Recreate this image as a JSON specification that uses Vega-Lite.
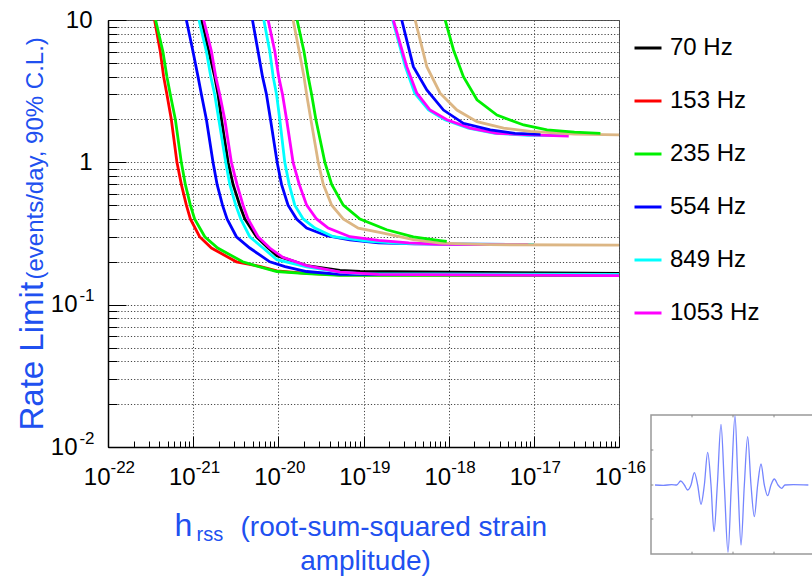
{
  "$schema": "https://vega.github.io/schema/vega-lite/v6.json",
  "width": 511,
  "height": 427,
  "autosize": {"type": "none"},
  "padding": {"left": 108, "top": 20, "right": 193, "bottom": 131},
  "background": "#ffffff",
  "config": {
    "font": "Liberation Sans",
    "view": {"stroke": "#555555", "strokeWidth": 1},
    "axis": {"labelFont": "Liberation Sans", "titleFont": "Liberation Sans", "titleFontWeight": "normal", "labelColor": "#000000"}
  },
  "layer": [
    {
      "data": {"values": [
        {"h": 1.25e-21, "rate": 10, "f": "70 Hz", "g": "a70"},
        {"h": 1.53e-21, "rate": 6, "f": "70 Hz", "g": "a70"},
        {"h": 1.79e-21, "rate": 4, "f": "70 Hz", "g": "a70"},
        {"h": 1.96e-21, "rate": 3, "f": "70 Hz", "g": "a70"},
        {"h": 2.15e-21, "rate": 2, "f": "70 Hz", "g": "a70"},
        {"h": 2.57e-21, "rate": 1, "f": "70 Hz", "g": "a70"},
        {"h": 2.94e-21, "rate": 0.7, "f": "70 Hz", "g": "a70"},
        {"h": 3.52e-21, "rate": 0.5, "f": "70 Hz", "g": "a70"},
        {"h": 4.04e-21, "rate": 0.4, "f": "70 Hz", "g": "a70"},
        {"h": 5.54e-21, "rate": 0.3, "f": "70 Hz", "g": "a70"},
        {"h": 7.59e-21, "rate": 0.25, "f": "70 Hz", "g": "a70"},
        {"h": 9.6e-21, "rate": 0.221, "f": "70 Hz", "g": "a70"},
        {"h": 2.15e-20, "rate": 0.188, "f": "70 Hz", "g": "a70"},
        {"h": 5.3e-20, "rate": 0.174, "f": "70 Hz", "g": "a70"},
        {"h": 9.1e-20, "rate": 0.171, "f": "70 Hz", "g": "a70"},
        {"h": 1e-16, "rate": 0.166, "f": "70 Hz", "g": "a70"},

        {"h": 3.52e-22, "rate": 10, "f": "153 Hz", "g": "a153"},
        {"h": 4.11e-22, "rate": 6, "f": "153 Hz", "g": "a153"},
        {"h": 4.5e-22, "rate": 4, "f": "153 Hz", "g": "a153"},
        {"h": 4.92e-22, "rate": 3, "f": "153 Hz", "g": "a153"},
        {"h": 5.54e-22, "rate": 2, "f": "153 Hz", "g": "a153"},
        {"h": 6.45e-22, "rate": 1, "f": "153 Hz", "g": "a153"},
        {"h": 7.26e-22, "rate": 0.7, "f": "153 Hz", "g": "a153"},
        {"h": 8.32e-22, "rate": 0.5, "f": "153 Hz", "g": "a153"},
        {"h": 9.27e-22, "rate": 0.4, "f": "153 Hz", "g": "a153"},
        {"h": 1.19e-21, "rate": 0.3, "f": "153 Hz", "g": "a153"},
        {"h": 1.64e-21, "rate": 0.25, "f": "153 Hz", "g": "a153"},
        {"h": 3.22e-21, "rate": 0.2, "f": "153 Hz", "g": "a153"},
        {"h": 6.06e-21, "rate": 0.186, "f": "153 Hz", "g": "a153"},
        {"h": 9.6e-21, "rate": 0.173, "f": "153 Hz", "g": "a153"},
        {"h": 2.15e-20, "rate": 0.166, "f": "153 Hz", "g": "a153"},
        {"h": 5.3e-20, "rate": 0.162, "f": "153 Hz", "g": "a153"},
        {"h": 1e-16, "rate": 0.161, "f": "153 Hz", "g": "a153"},

        {"h": 3.62e-22, "rate": 10, "f": "235 Hz", "g": "a235"},
        {"h": 4.41e-22, "rate": 6, "f": "235 Hz", "g": "a235"},
        {"h": 4.92e-22, "rate": 4, "f": "235 Hz", "g": "a235"},
        {"h": 5.39e-22, "rate": 3, "f": "235 Hz", "g": "a235"},
        {"h": 6.18e-22, "rate": 2, "f": "235 Hz", "g": "a235"},
        {"h": 7.26e-22, "rate": 1, "f": "235 Hz", "g": "a235"},
        {"h": 8.09e-22, "rate": 0.7, "f": "235 Hz", "g": "a235"},
        {"h": 9.27e-22, "rate": 0.5, "f": "235 Hz", "g": "a235"},
        {"h": 1.04e-21, "rate": 0.4, "f": "235 Hz", "g": "a235"},
        {"h": 1.37e-21, "rate": 0.3, "f": "235 Hz", "g": "a235"},
        {"h": 1.94e-21, "rate": 0.25, "f": "235 Hz", "g": "a235"},
        {"h": 3.82e-21, "rate": 0.2, "f": "235 Hz", "g": "a235"},
        {"h": 6.06e-21, "rate": 0.184, "f": "235 Hz", "g": "a235"},
        {"h": 9.6e-21, "rate": 0.171, "f": "235 Hz", "g": "a235"},
        {"h": 2.15e-20, "rate": 0.165, "f": "235 Hz", "g": "a235"},
        {"h": 5.3e-20, "rate": 0.161, "f": "235 Hz", "g": "a235"},
        {"h": 1e-16, "rate": 0.16, "f": "235 Hz", "g": "a235"},

        {"h": 8.32e-22, "rate": 10, "f": "554 Hz", "g": "a554"},
        {"h": 9.95e-22, "rate": 6, "f": "554 Hz", "g": "a554"},
        {"h": 1.14e-21, "rate": 4, "f": "554 Hz", "g": "a554"},
        {"h": 1.25e-21, "rate": 3, "f": "554 Hz", "g": "a554"},
        {"h": 1.43e-21, "rate": 2, "f": "554 Hz", "g": "a554"},
        {"h": 1.71e-21, "rate": 1, "f": "554 Hz", "g": "a554"},
        {"h": 1.91e-21, "rate": 0.7, "f": "554 Hz", "g": "a554"},
        {"h": 2.21e-21, "rate": 0.5, "f": "554 Hz", "g": "a554"},
        {"h": 2.5e-21, "rate": 0.4, "f": "554 Hz", "g": "a554"},
        {"h": 3.22e-21, "rate": 0.3, "f": "554 Hz", "g": "a554"},
        {"h": 4.62e-21, "rate": 0.25, "f": "554 Hz", "g": "a554"},
        {"h": 7.94e-21, "rate": 0.2, "f": "554 Hz", "g": "a554"},
        {"h": 1.2e-20, "rate": 0.185, "f": "554 Hz", "g": "a554"},
        {"h": 2.15e-20, "rate": 0.171, "f": "554 Hz", "g": "a554"},
        {"h": 5.3e-20, "rate": 0.163, "f": "554 Hz", "g": "a554"},
        {"h": 1e-16, "rate": 0.162, "f": "554 Hz", "g": "a554"},

        {"h": 1.17e-21, "rate": 10, "f": "849 Hz", "g": "a849"},
        {"h": 1.43e-21, "rate": 6, "f": "849 Hz", "g": "a849"},
        {"h": 1.61e-21, "rate": 4, "f": "849 Hz", "g": "a849"},
        {"h": 1.79e-21, "rate": 3, "f": "849 Hz", "g": "a849"},
        {"h": 2.0e-21, "rate": 2, "f": "849 Hz", "g": "a849"},
        {"h": 2.41e-21, "rate": 1, "f": "849 Hz", "g": "a849"},
        {"h": 2.69e-21, "rate": 0.7, "f": "849 Hz", "g": "a849"},
        {"h": 3.16e-21, "rate": 0.5, "f": "849 Hz", "g": "a849"},
        {"h": 3.62e-21, "rate": 0.4, "f": "849 Hz", "g": "a849"},
        {"h": 4.62e-21, "rate": 0.3, "f": "849 Hz", "g": "a849"},
        {"h": 6.62e-21, "rate": 0.25, "f": "849 Hz", "g": "a849"},
        {"h": 9.6e-21, "rate": 0.207, "f": "849 Hz", "g": "a849"},
        {"h": 2.15e-20, "rate": 0.184, "f": "849 Hz", "g": "a849"},
        {"h": 5.3e-20, "rate": 0.169, "f": "849 Hz", "g": "a849"},
        {"h": 9.1e-20, "rate": 0.165, "f": "849 Hz", "g": "a849"},
        {"h": 1e-16, "rate": 0.163, "f": "849 Hz", "g": "a849"},

        {"h": 1.33e-21, "rate": 10, "f": "1053 Hz", "g": "a1053"},
        {"h": 1.64e-21, "rate": 6, "f": "1053 Hz", "g": "a1053"},
        {"h": 1.84e-21, "rate": 4, "f": "1053 Hz", "g": "a1053"},
        {"h": 2.05e-21, "rate": 3, "f": "1053 Hz", "g": "a1053"},
        {"h": 2.35e-21, "rate": 2, "f": "1053 Hz", "g": "a1053"},
        {"h": 2.81e-21, "rate": 1, "f": "1053 Hz", "g": "a1053"},
        {"h": 3.27e-21, "rate": 0.7, "f": "1053 Hz", "g": "a1053"},
        {"h": 3.85e-21, "rate": 0.5, "f": "1053 Hz", "g": "a1053"},
        {"h": 4.41e-21, "rate": 0.4, "f": "1053 Hz", "g": "a1053"},
        {"h": 5.78e-21, "rate": 0.3, "f": "1053 Hz", "g": "a1053"},
        {"h": 7.94e-21, "rate": 0.25, "f": "1053 Hz", "g": "a1053"},
        {"h": 1.13e-20, "rate": 0.215, "f": "1053 Hz", "g": "a1053"},
        {"h": 2.15e-20, "rate": 0.188, "f": "1053 Hz", "g": "a1053"},
        {"h": 5.3e-20, "rate": 0.169, "f": "1053 Hz", "g": "a1053"},
        {"h": 1.5e-19, "rate": 0.163, "f": "1053 Hz", "g": "a1053"},
        {"h": 1e-16, "rate": 0.16, "f": "1053 Hz", "g": "a1053"},

        {"h": 4.97e-21, "rate": 10, "f": "554 Hz", "g": "b554"},
        {"h": 5.78e-21, "rate": 6, "f": "554 Hz", "g": "b554"},
        {"h": 6.52e-21, "rate": 4, "f": "554 Hz", "g": "b554"},
        {"h": 7.26e-21, "rate": 3, "f": "554 Hz", "g": "b554"},
        {"h": 8.09e-21, "rate": 2, "f": "554 Hz", "g": "b554"},
        {"h": 9.68e-21, "rate": 1, "f": "554 Hz", "g": "b554"},
        {"h": 1.09e-20, "rate": 0.7, "f": "554 Hz", "g": "b554"},
        {"h": 1.3e-20, "rate": 0.5, "f": "554 Hz", "g": "b554"},
        {"h": 1.64e-20, "rate": 0.4, "f": "554 Hz", "g": "b554"},
        {"h": 2.15e-20, "rate": 0.345, "f": "554 Hz", "g": "b554"},
        {"h": 3.69e-20, "rate": 0.305, "f": "554 Hz", "g": "b554"},
        {"h": 6.9e-20, "rate": 0.285, "f": "554 Hz", "g": "b554"},
        {"h": 1.5e-19, "rate": 0.272, "f": "554 Hz", "g": "b554"},
        {"h": 4e-19, "rate": 0.267, "f": "554 Hz", "g": "b554"},
        {"h": 1e-17, "rate": 0.265, "f": "554 Hz", "g": "b554"},

        {"h": 6.75e-21, "rate": 10, "f": "849 Hz", "g": "b849"},
        {"h": 7.94e-21, "rate": 6, "f": "849 Hz", "g": "b849"},
        {"h": 8.69e-21, "rate": 4, "f": "849 Hz", "g": "b849"},
        {"h": 9.53e-21, "rate": 3, "f": "849 Hz", "g": "b849"},
        {"h": 1.04e-20, "rate": 2, "f": "849 Hz", "g": "b849"},
        {"h": 1.19e-20, "rate": 1, "f": "849 Hz", "g": "b849"},
        {"h": 1.34e-20, "rate": 0.7, "f": "849 Hz", "g": "b849"},
        {"h": 1.56e-20, "rate": 0.5, "f": "849 Hz", "g": "b849"},
        {"h": 1.96e-20, "rate": 0.4, "f": "849 Hz", "g": "b849"},
        {"h": 2.69e-20, "rate": 0.345, "f": "849 Hz", "g": "b849"},
        {"h": 4.42e-20, "rate": 0.3, "f": "849 Hz", "g": "b849"},
        {"h": 1.09e-19, "rate": 0.28, "f": "849 Hz", "g": "b849"},
        {"h": 2.69e-19, "rate": 0.27, "f": "849 Hz", "g": "b849"},
        {"h": 1.04e-18, "rate": 0.266, "f": "849 Hz", "g": "b849"},
        {"h": 1e-17, "rate": 0.265, "f": "849 Hz", "g": "b849"},

        {"h": 7.59e-21, "rate": 10, "f": "1053 Hz", "g": "b1053"},
        {"h": 9.1e-21, "rate": 6, "f": "1053 Hz", "g": "b1053"},
        {"h": 1.01e-20, "rate": 4, "f": "1053 Hz", "g": "b1053"},
        {"h": 1.12e-20, "rate": 3, "f": "1053 Hz", "g": "b1053"},
        {"h": 1.25e-20, "rate": 2, "f": "1053 Hz", "g": "b1053"},
        {"h": 1.49e-20, "rate": 1, "f": "1053 Hz", "g": "b1053"},
        {"h": 1.76e-20, "rate": 0.7, "f": "1053 Hz", "g": "b1053"},
        {"h": 2.15e-20, "rate": 0.5, "f": "1053 Hz", "g": "b1053"},
        {"h": 2.81e-20, "rate": 0.4, "f": "1053 Hz", "g": "b1053"},
        {"h": 3.85e-20, "rate": 0.345, "f": "1053 Hz", "g": "b1053"},
        {"h": 6.93e-20, "rate": 0.3, "f": "1053 Hz", "g": "b1053"},
        {"h": 1.5e-19, "rate": 0.283, "f": "1053 Hz", "g": "b1053"},
        {"h": 3.4e-19, "rate": 0.272, "f": "1053 Hz", "g": "b1053"},
        {"h": 7.94e-19, "rate": 0.265, "f": "1053 Hz", "g": "b1053"},
        {"h": 8.6e-18, "rate": 0.264, "f": "1053 Hz", "g": "b1053"},

        {"h": 1.49e-20, "rate": 10, "f": "other", "g": "bx"},
        {"h": 1.76e-20, "rate": 6, "f": "other", "g": "bx"},
        {"h": 2.0e-20, "rate": 4, "f": "other", "g": "bx"},
        {"h": 2.15e-20, "rate": 3, "f": "other", "g": "bx"},
        {"h": 2.41e-20, "rate": 2, "f": "other", "g": "bx"},
        {"h": 2.94e-20, "rate": 1, "f": "other", "g": "bx"},
        {"h": 3.37e-20, "rate": 0.7, "f": "other", "g": "bx"},
        {"h": 4.23e-20, "rate": 0.5, "f": "other", "g": "bx"},
        {"h": 5.78e-20, "rate": 0.4, "f": "other", "g": "bx"},
        {"h": 8.69e-20, "rate": 0.345, "f": "other", "g": "bx"},
        {"h": 1.71e-19, "rate": 0.318, "f": "other", "g": "bx"},
        {"h": 3.85e-19, "rate": 0.286, "f": "other", "g": "bx"},
        {"h": 7.94e-19, "rate": 0.271, "f": "other", "g": "bx"},
        {"h": 3e-18, "rate": 0.264, "f": "other", "g": "bx"},
        {"h": 1e-16, "rate": 0.262, "f": "other", "g": "bx"},

        {"h": 1.66e-20, "rate": 10, "f": "235 Hz", "g": "b235"},
        {"h": 2.0e-20, "rate": 6, "f": "235 Hz", "g": "b235"},
        {"h": 2.24e-20, "rate": 4, "f": "235 Hz", "g": "b235"},
        {"h": 2.46e-20, "rate": 3, "f": "235 Hz", "g": "b235"},
        {"h": 2.76e-20, "rate": 2, "f": "235 Hz", "g": "b235"},
        {"h": 3.52e-20, "rate": 1, "f": "235 Hz", "g": "b235"},
        {"h": 4.23e-20, "rate": 0.7, "f": "235 Hz", "g": "b235"},
        {"h": 5.78e-20, "rate": 0.5, "f": "235 Hz", "g": "b235"},
        {"h": 9.1e-20, "rate": 0.4, "f": "235 Hz", "g": "b235"},
        {"h": 1.87e-19, "rate": 0.336, "f": "235 Hz", "g": "b235"},
        {"h": 3.85e-19, "rate": 0.299, "f": "235 Hz", "g": "b235"},
        {"h": 7.94e-19, "rate": 0.282, "f": "235 Hz", "g": "b235"},
        {"h": 9.5e-19, "rate": 0.278, "f": "235 Hz", "g": "b235"},

        {"h": 2.2e-19, "rate": 10, "f": "849 Hz", "g": "c849"},
        {"h": 3.1e-19, "rate": 4.7, "f": "849 Hz", "g": "c849"},
        {"h": 4.0e-19, "rate": 3.06, "f": "849 Hz", "g": "c849"},
        {"h": 5.8e-19, "rate": 2.33, "f": "849 Hz", "g": "c849"},
        {"h": 9.0e-19, "rate": 1.99, "f": "849 Hz", "g": "c849"},
        {"h": 1.7e-18, "rate": 1.74, "f": "849 Hz", "g": "c849"},
        {"h": 3.5e-18, "rate": 1.6, "f": "849 Hz", "g": "c849"},
        {"h": 8.5e-18, "rate": 1.55, "f": "849 Hz", "g": "c849"},
        {"h": 2.3e-17, "rate": 1.54, "f": "849 Hz", "g": "c849"},

        {"h": 2.24e-19, "rate": 10, "f": "1053 Hz", "g": "c1053"},
        {"h": 3.22e-19, "rate": 4.7, "f": "1053 Hz", "g": "c1053"},
        {"h": 4.23e-19, "rate": 3.06, "f": "1053 Hz", "g": "c1053"},
        {"h": 6.05e-19, "rate": 2.33, "f": "1053 Hz", "g": "c1053"},
        {"h": 9.53e-19, "rate": 1.99, "f": "1053 Hz", "g": "c1053"},
        {"h": 1.79e-18, "rate": 1.74, "f": "1053 Hz", "g": "c1053"},
        {"h": 3.69e-18, "rate": 1.6, "f": "1053 Hz", "g": "c1053"},
        {"h": 9.1e-18, "rate": 1.56, "f": "1053 Hz", "g": "c1053"},
        {"h": 2.57e-17, "rate": 1.53, "f": "1053 Hz", "g": "c1053"},

        {"h": 2.81e-19, "rate": 10, "f": "554 Hz", "g": "c554"},
        {"h": 3.85e-19, "rate": 4.7, "f": "554 Hz", "g": "c554"},
        {"h": 5.54e-19, "rate": 3.23, "f": "554 Hz", "g": "c554"},
        {"h": 8.69e-19, "rate": 2.33, "f": "554 Hz", "g": "c554"},
        {"h": 1.49e-18, "rate": 1.88, "f": "554 Hz", "g": "c554"},
        {"h": 3.08e-18, "rate": 1.69, "f": "554 Hz", "g": "c554"},
        {"h": 6e-18, "rate": 1.6, "f": "554 Hz", "g": "c554"},
        {"h": 1.2e-17, "rate": 1.57, "f": "554 Hz", "g": "c554"},

        {"h": 4.04e-19, "rate": 10, "f": "other", "g": "cx"},
        {"h": 5.54e-19, "rate": 4.7, "f": "other", "g": "cx"},
        {"h": 7.94e-19, "rate": 3.06, "f": "other", "g": "cx"},
        {"h": 1.25e-18, "rate": 2.33, "f": "other", "g": "cx"},
        {"h": 2.15e-18, "rate": 1.93, "f": "other", "g": "cx"},
        {"h": 4.42e-18, "rate": 1.74, "f": "other", "g": "cx"},
        {"h": 9.1e-18, "rate": 1.65, "f": "other", "g": "cx"},
        {"h": 3e-17, "rate": 1.58, "f": "other", "g": "cx"},
        {"h": 1e-16, "rate": 1.56, "f": "other", "g": "cx"},

        {"h": 9.1e-19, "rate": 10, "f": "235 Hz", "g": "c235"},
        {"h": 1.14e-18, "rate": 6.16, "f": "235 Hz", "g": "c235"},
        {"h": 1.49e-18, "rate": 4.0, "f": "235 Hz", "g": "c235"},
        {"h": 2.15e-18, "rate": 2.75, "f": "235 Hz", "g": "c235"},
        {"h": 3.69e-18, "rate": 2.15, "f": "235 Hz", "g": "c235"},
        {"h": 7.59e-18, "rate": 1.83, "f": "235 Hz", "g": "c235"},
        {"h": 1.43e-17, "rate": 1.69, "f": "235 Hz", "g": "c235"},
        {"h": 3e-17, "rate": 1.63, "f": "235 Hz", "g": "c235"},
        {"h": 6.05e-17, "rate": 1.6, "f": "235 Hz", "g": "c235"}
      ]},
      "layer": [
        {
          "mark": {"type": "line", "strokeWidth": 2.8, "clip": true},
          "encoding": {
            "x": {
              "field": "h", "type": "quantitative",
              "scale": {"type": "log", "domain": [1e-22, 1e-16], "nice": false},
              "axis": {
                "orient": "bottom",
                "values": [1e-22,2e-22,3e-22,4e-22,5e-22,6e-22,7e-22,8e-22,9e-22,1e-21,2e-21,3e-21,4e-21,5e-21,6e-21,7e-21,8e-21,9e-21,1e-20,2e-20,3e-20,4e-20,5e-20,6e-20,7e-20,8e-20,9e-20,1e-19,2e-19,3e-19,4e-19,5e-19,6e-19,7e-19,8e-19,9e-19,1e-18,2e-18,3e-18,4e-18,5e-18,6e-18,7e-18,8e-18,9e-18,1e-17,2e-17,3e-17,4e-17,5e-17,6e-17,7e-17,8e-17,9e-17,1e-16],
                "labelExpr": "abs(log(datum.value)/LN10 - round(log(datum.value)/LN10)) < 0.01 ? '10' : ''",
                "labelFontSize": 24,
                "labelPadding": 29,
                "labelAlign": "right",
                "labelOffset": 2,
                "labelOverlap": false,
                "labelFlush": false,
                "tickColor": "#000000",
                "tickSize": {"condition": {"test": "abs(log(datum.value)/LN10 - round(log(datum.value)/LN10)) < 0.01", "value": -11}, "value": -6},
                "grid": true,
                "gridColor": "#444444",
                "gridDash": [1.2, 2],
                "gridOpacity": {"condition": {"test": "abs(log(datum.value)/LN10 - round(log(datum.value)/LN10)) < 0.01", "value": 1}, "value": 0},
                "domainColor": "#000000",
                "domainWidth": 1.5,
                "title": "(root-sum-squared strain",
                "titleFontSize": 28,
                "titleColor": "#2050f0",
                "titleX": 132,
                "titleY": 88,
                "titleAlign": "left",
                "titleBaseline": "alphabetic"
              }
            },
            "y": {
              "field": "rate", "type": "quantitative",
              "scale": {"type": "log", "domain": [0.01, 10], "nice": false},
              "axis": {
                "orient": "left",
                "values": [0.01,0.02,0.03,0.04,0.05,0.06,0.07,0.08,0.09,0.1,0.2,0.3,0.4,0.5,0.6,0.7,0.8,0.9,1,2,3,4,5,6,7,8,9,10],
                "labelExpr": "abs(log(datum.value)/LN10 - round(log(datum.value)/LN10)) < 0.01 ? (round(log(datum.value)/LN10) == 0 ? '1' : '10') : ''",
                "labelFontSize": 24,
                "labelPadding": {"condition": {"test": "datum.value < 0.5", "value": 49}, "value": 34},
                "labelBaseline": "middle",
                "labelOverlap": false,
                "labelFlush": false,
                "tickColor": "#000000",
                "tickSize": {"condition": {"test": "abs(log(datum.value)/LN10 - round(log(datum.value)/LN10)) < 0.01", "value": -18}, "value": -9},
                "grid": true,
                "gridColor": "#444444",
                "gridDash": [1.2, 2],
                "domainColor": "#000000",
                "domainWidth": 1.5,
                "title": "Rate Limit",
                "titleFontSize": 33,
                "titleColor": "#2050f0",
                "titleAngle": 270,
                "titleX": -66,
                "titleY": 410,
                "titleAlign": "left",
                "titleBaseline": "alphabetic"
              }
            },
            "color": {
              "field": "f", "type": "nominal",
              "scale": {
                "domain": ["70 Hz", "153 Hz", "235 Hz", "554 Hz", "849 Hz", "1053 Hz", "other"],
                "range": ["#000000", "#ff0000", "#00f000", "#0000ff", "#00ffff", "#ff00ff", "#dcb684"]
              },
              "legend": {
                "orient": "none",
                "legendX": 525,
                "legendY": 13,
                "values": ["70 Hz", "153 Hz", "235 Hz", "554 Hz", "849 Hz", "1053 Hz"],
                "title": null,
                "symbolType": "stroke",
                "symbolSize": 729,
                "symbolStrokeWidth": 3,
                "labelFont": "Liberation Sans",
                "labelFontSize": 24,
                "labelColor": "#000000",
                "labelOffset": 7,
                "rowPadding": 26,
                "padding": 0
              }
            },
            "detail": {"field": "g", "type": "nominal"}
          }
        },
        {
          "mark": {"type": "point", "opacity": 0},
          "encoding": {
            "x": {
              "field": "h", "type": "quantitative",
              "scale": {"type": "log", "domain": [1e-22, 1e-16], "nice": false},
              "axis": {"orient": "bottom", "domain": false, "ticks": false, "tickSize": 0, "grid": false,
                "values": [1e-22, 1e-21, 1e-20, 1e-19, 1e-18, 1e-17, 1e-16],
                "labelExpr": "'-' + (-round(log(datum.value)/LN10))",
                "labelFontSize": 17,
                "labelAlign": "left",
                "labelBaseline": "top",
                "labelOffset": 2,
                "labelPadding": 12,
                "labelOverlap": false,
                "labelFlush": false,
                "title": "h", "titleFontSize": 32, "titleColor": "#2050f0", "titleX": 66, "titleY": 88, "titleAlign": "left", "titleBaseline": "alphabetic"}
            },
            "y": {
              "field": "rate", "type": "quantitative",
              "scale": {"type": "log", "domain": [0.01, 10], "nice": false},
              "axis": {"orient": "left", "domain": false, "ticks": false, "tickSize": 0, "grid": false,
                "values": [0.01, 0.1],
                "labelExpr": "'-' + (-round(log(datum.value)/LN10))",
                "labelFontSize": 17,
                "labelBaseline": "middle",
                "labelOffset": -9,
                "labelPadding": 14,
                "labelOverlap": false,
                "labelFlush": false,
                "title": "(events/day, 90% C.L.)", "titleFontSize": 24, "titleColor": "#2050f0", "titleAngle": 270, "titleX": -66, "titleY": 259, "titleAlign": "left", "titleBaseline": "alphabetic"}
            }
          }
        }
      ],
      "resolve": {"axis": {"x": "independent", "y": "independent"}}
    },
    {
      "layer": [
        {
          "data": {"values": [{"t": 33, "t2": 525, "v": -207, "v2": 210}]},
          "mark": {"type": "rect", "fill": "#ffffff", "stroke": "#999999", "strokeWidth": 1.5},
          "encoding": {"x2": {"field": "t2"}, "y2": {"field": "v2"}}
        },
        {
          "data": {"values": [
            {"t": 156, "t2": 156, "v": 210, "v2": 203},
            {"t": 279, "t2": 279, "v": 210, "v2": 203},
            {"t": 402, "t2": 402, "v": 210, "v2": 203},
            {"t": 156, "t2": 156, "v": -207, "v2": -200},
            {"t": 279, "t2": 279, "v": -207, "v2": -200},
            {"t": 402, "t2": 402, "v": -207, "v2": -200},
            {"t": 33, "t2": 40, "v": 105, "v2": 105},
            {"t": 33, "t2": 40, "v": 0, "v2": 0},
            {"t": 33, "t2": 40, "v": -102, "v2": -102}
          ]},
          "mark": {"type": "rule", "color": "#888888", "strokeWidth": 1},
          "encoding": {"x2": {"field": "t2"}, "y2": {"field": "v2"}}
        },
        {
          "data": {"values": [
            {"t": 45, "v": 0}, {"t": 70, "v": -1}, {"t": 95, "v": 1}, {"t": 110, "v": 0},
            {"t": 122, "v": 12}, {"t": 133, "v": 0}, {"t": 143, "v": -15}, {"t": 153, "v": 0},
            {"t": 163, "v": 37}, {"t": 173, "v": 0}, {"t": 183, "v": -58}, {"t": 193, "v": 0},
            {"t": 203, "v": 98}, {"t": 213, "v": 0}, {"t": 222, "v": -140}, {"t": 232, "v": 0},
            {"t": 243, "v": 182}, {"t": 253, "v": 0}, {"t": 264, "v": -202}, {"t": 274, "v": 0},
            {"t": 285, "v": 208}, {"t": 294, "v": 0}, {"t": 303, "v": -180}, {"t": 313, "v": 0},
            {"t": 323, "v": 145}, {"t": 333, "v": 0}, {"t": 343, "v": -95}, {"t": 353, "v": 0},
            {"t": 363, "v": 63}, {"t": 373, "v": 0}, {"t": 383, "v": -32}, {"t": 393, "v": 0},
            {"t": 403, "v": 18}, {"t": 414, "v": 0}, {"t": 425, "v": -10}, {"t": 435, "v": 0},
            {"t": 460, "v": 1}, {"t": 505, "v": 0}
          ]},
          "mark": {"type": "line", "interpolate": "monotone", "color": "#7585ff", "strokeWidth": 1.3}
        }
      ],
      "encoding": {
        "x": {
          "field": "t", "type": "quantitative",
          "scale": {"domain": [33, 525], "range": [543, 707], "nice": false, "zero": false},
          "axis": {"orient": "bottom", "domain": false, "ticks": false, "labels": false, "grid": false,
            "title": "rss", "titleFontSize": 20, "titleColor": "#2050f0", "titleX": 88, "titleY": 93, "titleAlign": "left", "titleBaseline": "alphabetic"}
        },
        "y": {
          "field": "v", "type": "quantitative",
          "scale": {"domain": [-207, 210], "range": [534, 395], "nice": false, "zero": false},
          "axis": {"orient": "left", "domain": false, "ticks": false, "labels": false, "grid": false,
            "title": "amplitude)", "titleFontSize": 28, "titleColor": "#2050f0", "titleAngle": 0, "titleX": 257, "titleY": 549, "titleAlign": "center", "titleBaseline": "alphabetic"}
        }
      }
    }
  ],
  "resolve": {"scale": {"x": "independent", "y": "independent"}}
}
